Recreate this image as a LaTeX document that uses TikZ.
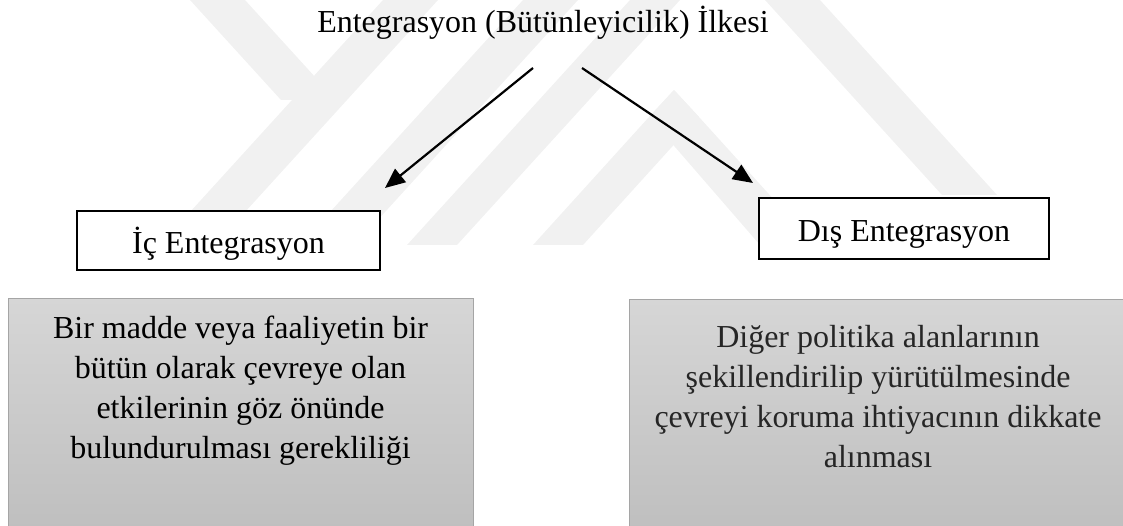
\documentclass[tikz,border=0pt]{standalone}
\usepackage{fontspec}
\setmainfont{Liberation Serif}
\usetikzlibrary{arrows.meta}
\definecolor{wm}{RGB}{241,241,241}
\definecolor{gtop}{RGB}{214,214,214}
\definecolor{gbot}{RGB}{190,190,190}
\definecolor{gedge}{RGB}{165,165,165}
\begin{document}
\begin{tikzpicture}[x=1pt,y=-1pt,
  txt/.style={font=\fontsize{32}{40}\selectfont, inner sep=0pt, align=center},
  whitebox/.style={draw=black, line width=2pt, fill=white, inner sep=0pt,
    text height=30pt, text depth=3pt, font=\fontsize{32}{38}\selectfont},
  graybox/.style={draw=gedge, line width=1.2pt, top color=gtop, bottom color=gbot, inner sep=0pt},
  arr/.style={line width=2.2pt, -{Triangle[length=20pt,width=17pt]}}]
\useasboundingbox (0,0) rectangle (1123,526);
% faint watermark bands
\fill[wm] (160,245) -- (215,245) -- (438,0) -- (383,0) -- cycle;
\fill[wm] (300,245) -- (355,245) -- (578,0) -- (523,0) -- cycle;
\fill[wm] (407,245) -- (457,245) -- (680,0) -- (630,0) -- cycle;
\fill[wm] (533,245) -- (583,245) -- (699,117) -- (674,90) -- (649,117) -- cycle;
\fill[wm] (190,0) -- (245,0) -- (336,100) -- (281,100) -- cycle;
\fill[wm] (674,90) -- (699,117) -- (815,245) -- (760,245) -- (649,117) -- cycle;
\fill[wm] (765,0) -- (820,0) -- (997,195) -- (942,195) -- cycle;
% title
\node[txt, anchor=base] (title) at (543,33) {Entegrasyon (Bütünleyicilik) İlkesi};
% arrows
\coordinate (l0) at (533,68);
\coordinate (l1) at (385,188);
\coordinate (r0) at (582,68);
\coordinate (r1) at (753,183);
\draw[arr] (l0) -- (l1);
\draw[arr] (r0) -- (r1);
% white boxes
\node[whitebox, minimum width=303pt, minimum height=59pt] (ic) at (228.5,240.5) {İç Entegrasyon};
\node[whitebox, minimum width=290pt, minimum height=61pt] (dis) at (904,228.5) {Dış Entegrasyon};
% gray boxes
\node[graybox, anchor=north west, minimum width=465pt, minimum height=240pt] (lg) at (8,298) {};
\node[graybox, anchor=north west, minimum width=510pt, minimum height=240pt] (rg) at (629,299) {};
\node[txt, anchor=base] (lt) at (240.5,458) {Bir madde veya faaliyetin bir\\bütün olarak çevreye olan\\etkilerinin göz önünde\\bulundurulması gerekliliği};
\node[txt, anchor=base, text=black!85] (rt) at (878,467) {Diğer politika alanlarının\\şekillendirilip yürütülmesinde\\çevreyi koruma ihtiyacının dikkate\\alınması};
\end{tikzpicture}
\end{document}
